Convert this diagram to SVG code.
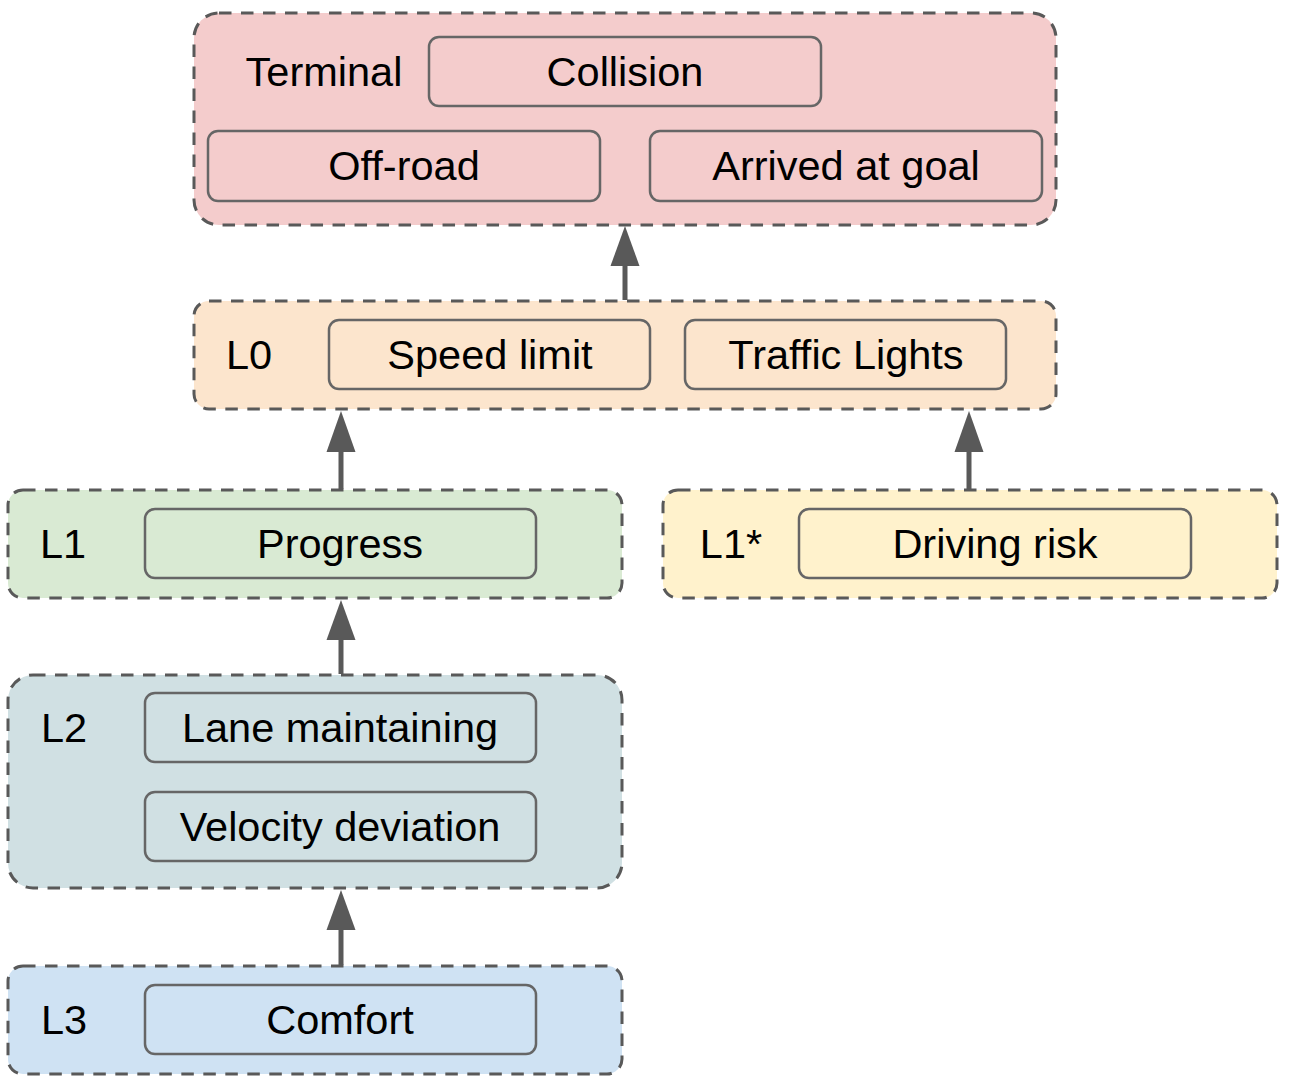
<svg xmlns="http://www.w3.org/2000/svg" width="1294" height="1080" viewBox="0 0 1294 1080">
<style>
.grp{stroke:#595959;stroke-width:3;stroke-dasharray:12.5 9.5}
.box{stroke:#666666;stroke-width:2.5}
text{font-family:"Liberation Sans",Arial,sans-serif;font-size:41.5px;fill:#000}
.c{text-anchor:middle}
.conn{stroke:#595959;stroke-width:5;fill:none}
.head{fill:#595959}
</style>
<rect width="1294" height="1080" fill="#ffffff"/>
<g id="terminal">
<rect class="grp" x="194" y="13" width="862" height="212" rx="25" fill="#f4cccc"/>
<text x="324" y="86" class="c">Terminal</text>
<rect class="box" x="429" y="37" width="392" height="69" rx="10" fill="#f4cccc"/>
<text x="625" y="86" class="c">Collision</text>
<rect class="box" x="208" y="131" width="392" height="70" rx="10" fill="#f4cccc"/>
<text x="404" y="180" class="c">Off-road</text>
<rect class="box" x="650" y="131" width="392" height="70" rx="10" fill="#f4cccc"/>
<text x="846" y="180" class="c">Arrived at goal</text>
</g>
<g id="l0">
<rect class="grp" x="194" y="301" width="862" height="108" rx="15" fill="#fce5cd"/>
<text x="249" y="369" class="c">L0</text>
<rect class="box" x="329" y="320" width="321" height="69" rx="10" fill="#fce5cd"/>
<text x="490" y="369" class="c">Speed limit</text>
<rect class="box" x="685" y="320" width="321" height="69" rx="10" fill="#fce5cd"/>
<text x="846" y="369" class="c">Traffic Lights</text>
</g>
<g id="l1">
<rect class="grp" x="8" y="490" width="614" height="108" rx="15" fill="#d9ead3"/>
<text x="63" y="558" class="c">L1</text>
<rect class="box" x="145" y="509" width="391" height="69" rx="10" fill="#d9ead3"/>
<text x="340" y="558" class="c">Progress</text>
</g>
<g id="l1star">
<rect class="grp" x="663" y="490" width="614" height="108" rx="15" fill="#fff2cc"/>
<text x="731" y="558" class="c">L1*</text>
<rect class="box" x="799" y="509" width="392" height="69" rx="10" fill="#fff2cc"/>
<text x="995" y="558" class="c">Driving risk</text>
</g>
<g id="l2">
<rect class="grp" x="8" y="675" width="614" height="213" rx="25" fill="#d0e0e3"/>
<text x="64" y="742" class="c">L2</text>
<rect class="box" x="145" y="693" width="391" height="69" rx="10" fill="#d0e0e3"/>
<text x="340" y="742" class="c">Lane maintaining</text>
<rect class="box" x="145" y="792" width="391" height="69" rx="10" fill="#d0e0e3"/>
<text x="340" y="841" class="c">Velocity deviation</text>
</g>
<g id="l3">
<rect class="grp" x="8" y="966" width="614" height="108" rx="15" fill="#cfe2f3"/>
<text x="64" y="1034" class="c">L3</text>
<rect class="box" x="145" y="985" width="391" height="69" rx="10" fill="#cfe2f3"/>
<text x="340" y="1034" class="c">Comfort</text>
</g>
<g id="connectors">
<line class="conn" x1="625" y1="300" x2="625" y2="264"/>
<path class="head" d="M610.5,266 L625,226 L639.5,266 Z"/>
<line class="conn" x1="341" y1="489" x2="341" y2="450"/>
<path class="head" d="M326.5,452 L341,411 L355.5,452 Z"/>
<line class="conn" x1="969" y1="489" x2="969" y2="450"/>
<path class="head" d="M954.5,452 L969,411 L983.5,452 Z"/>
<line class="conn" x1="341" y1="674" x2="341" y2="638"/>
<path class="head" d="M326.5,640 L341,600 L355.5,640 Z"/>
<line class="conn" x1="341" y1="965" x2="341" y2="928"/>
<path class="head" d="M326.5,930 L341,890 L355.5,930 Z"/>
</g>
</svg>
